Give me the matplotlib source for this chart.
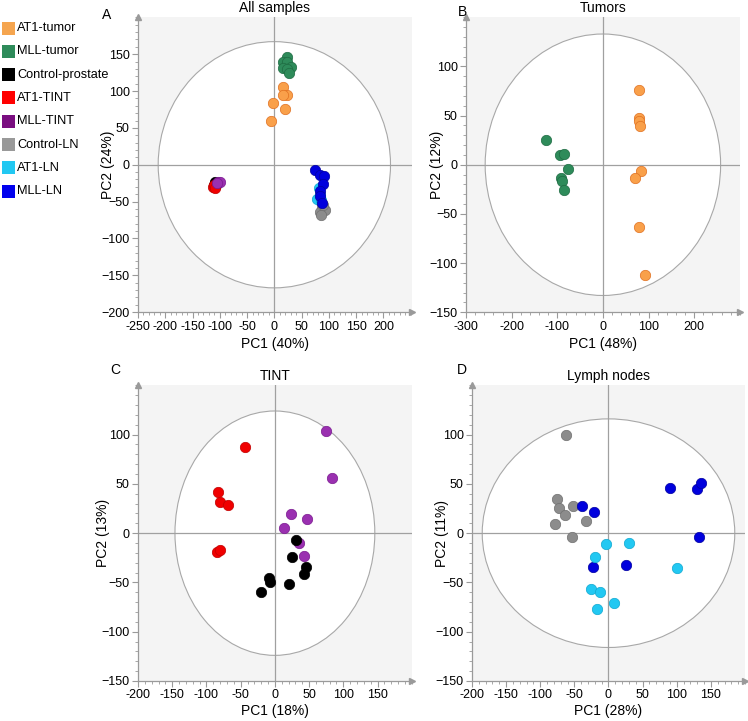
import numpy as np
import matplotlib
matplotlib.use("Agg")
import matplotlib.pyplot as plt
from matplotlib.patches import Ellipse, Rectangle
from matplotlib.ticker import MultipleLocator

plt.rcParams['font.family'] = ['Liberation Sans', 'DejaVu Sans']

# legend / groups
groups = ['AT1-tumor', 'MLL-tumor', 'Control-prostate', 'AT1-TINT', 'MLL-TINT',
          'Control-LN', 'AT1-LN', 'MLL-LN']
legend_colors = ['#F5A54F', '#2E8B5A', '#000000', '#FF0000', '#7A0E80',
                 '#999999', '#22C8F2', '#0000EE']
marker_colors = ['#F9A04A', '#2E8B5A', '#000000', '#F00000', '#9A30B0',
                 '#8C8C8C', '#22C8F2', '#0000DD']
edge_colors = ['#E07020', '#1E6B42', '#000000', '#C00000', '#7A1A90',
               '#707070', '#10A8D0', '#0000A0']

# panel A: all samples
a_x = {
    'AT1-tumor': [15, 24, 15, -3, 20, -7],
    'MLL-tumor': [24, 16, 24, 30, 16, 23, 27],
    'Control-prostate': [-110, -108, -111, -107, -109],
    'AT1-TINT': [-113, -111, -109],
    'MLL-TINT': [-103, -100, -105],
    'Control-LN': [85, 87, 84, 93, 85, 90],
    'AT1-LN': [81, 79, 85, 84],
    'MLL-LN': [75, 83, 91, 89, 84, 83, 87],
}
a_y = {
    'AT1-tumor': [105, 95, 95, 84, 76, 60],
    'MLL-tumor': [146, 140, 139, 133, 131, 130, 125],
    'Control-prostate': [-27, -25, -29, -28, -24],
    'AT1-TINT': [-30, -28, -31],
    'MLL-TINT': [-23, -24, -25],
    'Control-LN': [-50, -59, -64, -62, -68, -55],
    'AT1-LN': [-32, -47, -48, -41],
    'MLL-LN': [-7, -14, -15, -26, -36, -43, -52],
}

# panel B: tumors
b_x = {
    'MLL-tumor': [-124, -95, -86, -77, -91, -90, -85],
    'AT1-tumor': [80, 80, 80, 82, 83, 71, 80, 93],
}
b_y = {
    'MLL-tumor': [25, 10, 11, -4, -13, -17, -26],
    'AT1-tumor': [76, 48, 44, 39, -6, -13, -63, -112],
}

# panel C: TINT
c_x = {
    'AT1-TINT': [-44, -83, -80, -68, -84, -80],
    'MLL-TINT': [74, 84, 24, 47, 14, 35, 43],
    'Control-prostate': [31, 25, 46, 43, -9, -7, 20, -21],
}
c_y = {
    'AT1-TINT': [87, 42, 32, 29, -19, -17],
    'MLL-TINT': [104, 56, 19, 14, 5, -10, -23],
    'Control-prostate': [-7, -24, -34, -41, -45, -50, -52, -60],
}

# panel D: lymph nodes
d_x = {
    'Control-LN': [-62, -75, -72, -64, -79, -52, -33, -53],
    'MLL-LN': [-39, -21, -22, 25, 90, 129, 136, 132],
    'AT1-LN': [-3, 30, -20, -25, -13, -17, 8, 101],
}
d_y = {
    'Control-LN': [100, 35, 26, 18, 9, 28, 12, -4],
    'MLL-LN': [28, 21, -34, -32, 46, 45, 51, -4],
    'AT1-LN': [-11, -10, -24, -57, -60, -77, -71, -35],
}

fig = plt.figure(figsize=(7.48, 7.21), dpi=100)

panels = [
    # letter, title, xlabel, ylabel, xs, ys, xlim, ylim, ellipse radii, xmajor, xminor,
    # axes pos, letter pos, ylabel x, xlabel y
    ('A', 'All samples', 'PC1 (40%)', 'PC2 (24%)', a_x, a_y, (-250, 252), (-200, 200), (213, 167),
     50, 10, [0.1845, 0.567, 0.366, 0.409], (0.143, 0.979), -0.084, -0.085),
    ('B', 'Tumors', 'PC1 (48%)', 'PC2 (12%)', b_x, b_y, (-300, 300), (-150, 150), (258, 133),
     100, 20, [0.623, 0.567, 0.366, 0.409], (0.618, 0.983), -0.080, -0.085),
    ('C', 'TINT', 'PC1 (18%)', 'PC2 (13%)', c_x, c_y, (-200, 200), (-150, 150), (146, 124),
     50, 10, [0.1845, 0.0555, 0.366, 0.41], (0.154, 0.487), -0.102, -0.078),
    ('D', 'Lymph nodes', 'PC1 (28%)', 'PC2 (11%)', d_x, d_y, (-200, 200), (-150, 150), (185, 116),
     50, 10, [0.631, 0.0555, 0.365, 0.41], (0.618, 0.487), -0.084, -0.078),
]

axis_grey = '#9a9a9a'
for letter, title, xl, yl, xs, ys, xlim, ylim, (ra, rb), xmaj, xmin, pos, lpos, ylx, xly in panels:
    ax = fig.add_axes(pos)
    ax.set_facecolor('#f4f4f4')
    ax.set_xlim(*xlim)
    ax.set_ylim(*ylim)
    ax.add_patch(Ellipse((0, 0), 2 * ra, 2 * rb, facecolor='white',
                         edgecolor='#a8a8a8', lw=0.8, zorder=1))
    ax.axhline(0, color='#a0a0a0', lw=0.9, zorder=2)
    ax.axvline(0, color='#a0a0a0', lw=0.9, zorder=2)
    for g in xs:
        i = groups.index(g)
        ax.scatter(xs[g], ys[g], s=56, color=marker_colors[i],
                   edgecolors=edge_colors[i], linewidths=0.5, zorder=3)

    xt = np.arange(xlim[0], xlim[1] - xmaj * 0.4 + 1, xmaj)
    ax.set_xticks(xt)
    ax.set_xticklabels([str(int(v)) for v in xt])
    ax.set_yticks(np.arange(ylim[0], ylim[1] - 49, 50))
    ax.xaxis.set_minor_locator(MultipleLocator(xmin))
    ax.yaxis.set_minor_locator(MultipleLocator(10))
    ax.tick_params(which='major', length=4, width=0.8, color=axis_grey,
                   labelsize=9, pad=2)
    ax.tick_params(which='minor', length=2, width=0.6, color=axis_grey)
    for s in ['top', 'right']:
        ax.spines[s].set_visible(False)
    for s in ['left', 'bottom']:
        ax.spines[s].set_color(axis_grey)
        ax.spines[s].set_linewidth(0.9)
    ax.plot(0, 1, '^', ms=5, color=axis_grey, transform=ax.transAxes, clip_on=False)
    ax.plot(1, 0, '>', ms=5, color=axis_grey, transform=ax.transAxes, clip_on=False)

    ax.set_title(title, fontsize=10, pad=4)
    ax.set_xlabel(xl, fontsize=10)
    ax.set_ylabel(yl, fontsize=10)
    ax.xaxis.set_label_coords(0.5, xly)
    ax.yaxis.set_label_coords(ylx, 0.5)
    fig.text(lpos[0], lpos[1], letter, fontsize=10, ha='center', va='center')

# legend on the left
for i, (g, c) in enumerate(zip(groups, legend_colors)):
    yc = 1 - (28 + 23.3 * i) / 721
    fig.patches.append(Rectangle((2 / 748, yc - 6.5 / 721), 13 / 748, 13 / 721,
                                 facecolor=c, edgecolor='none',
                                 transform=fig.transFigure, figure=fig))
    fig.text(17 / 748, yc, g, fontsize=9.2, va='center', ha='left')

fig.savefig('out.png', dpi=100)
